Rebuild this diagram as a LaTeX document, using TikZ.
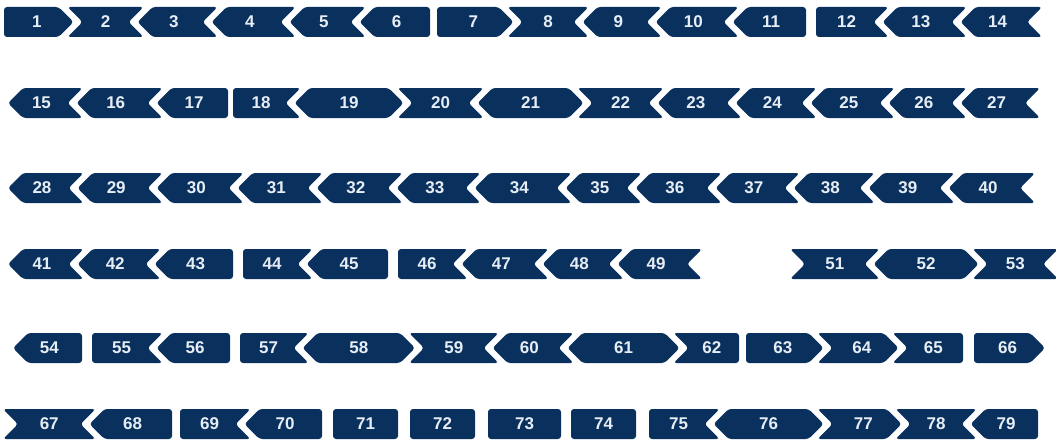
\documentclass[tikz,border=0pt]{standalone}
\usepackage{fontspec}
\setmainfont{Liberation Sans}
\definecolor{navy}{RGB}{10,49,94}
\definecolor{lbl}{RGB}{230,237,245}
\def\shdP{15}\def\shdN{-15}\def\shdF{0}
\def\shgP{1}\def\shgN{1}\def\shgF{0}
\tikzset{
  shapefill/.style={fill=navy, rounded corners=3pt},
  lab/.style={text=lbl, font=\fontsize{17}{17}\selectfont\bfseries, inner sep=0pt}
}
\newcommand{\shp}[6]{% #1 label, #2 left type, #3 right type, #4 xL, #5 xR, #6 yc
  \pgfmathsetmacro\shXl{#4+\csname shg#2\endcsname}%
  \pgfmathsetmacro\shXr{#5-\csname shg#3\endcsname}%
  \pgfmathsetmacro\shLx{\shXl-\csname shd#2\endcsname}%
  \pgfmathsetmacro\shRx{\shXr+\csname shd#3\endcsname}%
  \pgfmathsetmacro\shYt{#6-15}%
  \pgfmathsetmacro\shYb{#6+15}%
  \pgfmathsetmacro\shCx{0.375*(\shLx+\shRx)+0.125*(\shXl+\shXr)}%
  \fill[shapefill] (\shXl,\shYt) -- (\shXr,\shYt) -- (\shRx,#6) -- (\shXr,\shYb) -- (\shXl,\shYb) -- (\shLx,#6) -- cycle;
  \node[lab] (s#1) at (\shCx,#6) {#1};
}
\begin{document}
\begin{tikzpicture}[x=1pt,y=-1pt]
\useasboundingbox (0,0) rectangle (1056,444);
% row 1
\shp{1}{F}{P}{4}{59.5}{22}
\shp{2}{N}{N}{66.5}{144.5}{22}
\shp{3}{P}{N}{151.5}{218.5}{22}
\shp{4}{P}{N}{225.5}{296.5}{22}
\shp{5}{P}{N}{303.5}{366.5}{22}
\shp{6}{P}{F}{373.5}{430}{22}
\shp{7}{F}{P}{437}{499.5}{22}
\shp{8}{N}{N}{506.5}{589.5}{22}
\shp{9}{P}{N}{596.5}{662.5}{22}
\shp{10}{P}{N}{669.5}{739.5}{22}
\shp{11}{P}{F}{746.5}{806}{22}
\shp{12}{F}{N}{816}{889.5}{22}
\shp{13}{P}{N}{896.5}{967.5}{22}
\shp{14}{P}{N}{974.5}{1043}{22}
% row 2
\shp{15}{P}{N}{22}{83.5}{103}
\shp{16}{P}{N}{90.5}{163.5}{103}
\shp{17}{P}{F}{170.5}{228}{103}
\shp{18}{F}{N}{233}{301.5}{103}
\shp{19}{P}{P}{308.5}{389.5}{103}
\shp{20}{N}{N}{396.5}{484.5}{103}
\shp{21}{P}{P}{491.5}{569.5}{103}
\shp{22}{N}{N}{576.5}{664.5}{103}
\shp{23}{P}{N}{671.5}{742.5}{103}
\shp{24}{P}{N}{749.5}{817.5}{103}
\shp{25}{P}{N}{824.5}{895.5}{103}
\shp{26}{P}{N}{902.5}{967.5}{103}
\shp{27}{P}{N}{974.5}{1041}{103}
% row 3
\shp{28}{P}{N}{22}{84.5}{188}
\shp{29}{P}{N}{91.5}{163.5}{188}
\shp{30}{P}{N}{170.5}{244.5}{188}
\shp{31}{P}{N}{251.5}{323.5}{188}
\shp{32}{P}{N}{330.5}{403.5}{188}
\shp{33}{P}{N}{410.5}{481.5}{188}
\shp{34}{P}{N}{488.5}{572.5}{188}
\shp{35}{P}{N}{579.5}{642.5}{188}
\shp{36}{P}{N}{649.5}{722.5}{188}
\shp{37}{P}{N}{729.5}{800.5}{188}
\shp{38}{P}{N}{807.5}{875.5}{188}
\shp{39}{P}{N}{882.5}{955.5}{188}
\shp{40}{P}{N}{962.5}{1036}{188}
% row 4
\shp{41}{P}{N}{22}{84.5}{264}
\shp{42}{P}{N}{91.5}{161.5}{264}
\shp{43}{P}{F}{168.5}{233}{264}
\shp{44}{F}{N}{243}{313.5}{264}
\shp{45}{P}{F}{320.5}{388}{264}
\shp{46}{F}{N}{398}{468.5}{264}
\shp{47}{P}{N}{475.5}{549.5}{264}
\shp{48}{P}{N}{556.5}{624.5}{264}
\shp{49}{P}{N}{631.5}{703}{264}
\shp{51}{N}{N}{789}{880.5}{264}
\shp{52}{P}{P}{887.5}{964.5}{264}
\shp{53}{N}{N}{971.5}{1059}{264}
% row 5
\shp{54}{P}{F}{27}{82}{348}
\shp{55}{F}{N}{92}{163.5}{348}
\shp{56}{P}{F}{170.5}{230}{348}
\shp{57}{F}{N}{240}{309.5}{348}
\shp{58}{P}{P}{316.5}{401}{348}
\shp{59}{N}{N}{408}{499.5}{348}
\shp{60}{P}{N}{506.5}{574.5}{348}
\shp{61}{P}{P}{581.5}{665.5}{348}
\shp{62}{N}{F}{672.5}{739}{348}
\shp{63}{F}{P}{746}{809.5}{348}
\shp{64}{N}{P}{816.5}{884.5}{348}
\shp{65}{N}{F}{891.5}{963}{348}
\shp{66}{F}{P}{974}{1031}{348}
% row 6
\shp{67}{N}{N}{2}{96.5}{424}
\shp{68}{P}{F}{103.5}{172}{424}
\shp{69}{F}{N}{180}{251.5}{424}
\shp{70}{P}{F}{258.5}{322}{424}
\shp{71}{F}{F}{333}{398}{424}
\shp{72}{F}{F}{410}{475}{424}
\shp{73}{F}{F}{488}{561}{424}
\shp{74}{F}{F}{571}{636}{424}
\shp{75}{F}{N}{649}{720.5}{424}
\shp{76}{P}{P}{727.5}{809.5}{424}
\shp{77}{N}{P}{816.5}{887.5}{424}
\shp{78}{N}{N}{894.5}{977.5}{424}
\shp{79}{P}{F}{984.5}{1038}{424}
\end{tikzpicture}
\end{document}
